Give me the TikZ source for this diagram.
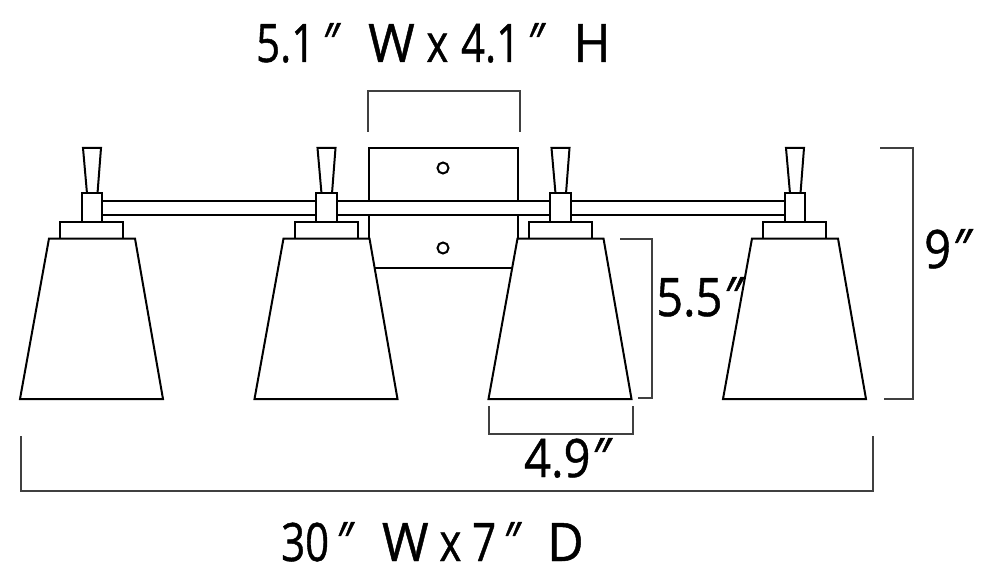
\documentclass[tikz,border=0pt]{standalone}
\usepackage{fontspec}
\setmainfont{Open Sans}
\newfontfamily\labfont[RawFeature={embolden=0.9}]{Open Sans}
\newcommand{\dpr}[1][8.5pt]{\hspace{#1}\raisebox{0.02em}{\textit{\char"2033}}}
\newcommand{\wid}[1]{\scalebox{1.2}[1]{#1}}
\newcommand{\lab}[1]{\scalebox{0.79}[1]{\labfont\fontsize{53}{53}\selectfont #1}}
\newcommand{\labw}[1]{\scalebox{0.887}[1]{\labfont\fontsize{53}{53}\selectfont #1}}
\tikzset{
  x=1pt,y=-1pt,
  lampline/.style={draw=black,line width=2pt,line join=miter,fill=white},
  barline/.style={draw=black,line width=2pt},
  dimline/.style={draw=black!75,line width=1.5pt},
  dimtext/.style={inner sep=0pt,anchor=base west,text=black},
  hole/.style={circle,draw=black,line width=2pt,minimum size=11pt,inner sep=0pt}
}
\newcommand{\lamp}[1]{
  \begin{scope}[xshift=#1pt]
    \draw[lampline] (83,148) -- (101,148) -- (97.5,193.5) -- (87,193.5) -- cycle;
    \draw[lampline] (81.5,193.5) rectangle (102,222);
    \draw[lampline] (60,222) rectangle (123,238.5);
    \draw[lampline] (49,238.5) -- (135,238.5) -- (163,399) -- (20,399) -- cycle;
  \end{scope}
}
\begin{document}
\begin{tikzpicture}
\useasboundingbox (0,0) rectangle (990,580);
% backplate
\draw[lampline] (369,148) rectangle (518,268);
\node[hole] (h1) at (443,168) {};
\node[hole] (h2) at (443,248) {};
% bar
\fill[white] (92,201) rectangle (794,214.5);
\draw[barline,line width=2.6pt] (92,201) -- (794,201);
\draw[barline,line width=2pt] (92,214.5) -- (794,214.5);
% lamps
\lamp{0}\lamp{234.5}\lamp{468.5}\lamp{703}
% dims
\coordinate (a1) at (368,132); \coordinate (a2) at (368,91); \coordinate (a3) at (520,91); \coordinate (a4) at (520,132);
\draw[dimline] (a1) -- (a2) -- (a3) -- (a4);
\coordinate (b1) at (880,148); \coordinate (b2) at (913,148); \coordinate (b3) at (913,399); \coordinate (b4) at (884,399);
\draw[dimline] (b1) -- (b2) -- (b3) -- (b4);
\coordinate (c1) at (620,239); \coordinate (c2) at (652,239); \coordinate (c3) at (652,398); \coordinate (c4) at (638,398);
\draw[dimline] (c1) -- (c2) -- (c3) -- (c4);
\coordinate (d1) at (489,406); \coordinate (d2) at (489,434); \coordinate (d3) at (633,434); \coordinate (d4) at (633,406);
\draw[dimline] (d1) -- (d2) -- (d3) -- (d4);
\coordinate (e1) at (21,436); \coordinate (e2) at (21,491); \coordinate (e3) at (873,491); \coordinate (e4) at (873,436);
\draw[dimline] (e1) -- (e2) -- (e3) -- (e4);
% text
\node[dimtext] (t1) at (256,62) {\lab{5.1\dpr\hspace{34.5pt}\wid{W}\hspace{1pt} x\hspace{2.5pt} 4.1\dpr\hspace{35pt}\wid{H}}};
\node[dimtext] (t2) at (281,561) {\lab{30\dpr\hspace{34.5pt}\wid{W} x 7\dpr\hspace{32pt}\wid{D}}};
\node[dimtext] (t3) at (656,316) {\labw{5.5\dpr[1pt]}};
\node[dimtext] (t4) at (524,477) {\labw{4.9\dpr[1pt]}};
\node[dimtext] (t5) at (924,268) {\labw{9\dpr[1pt]}};
\end{tikzpicture}
\end{document}
